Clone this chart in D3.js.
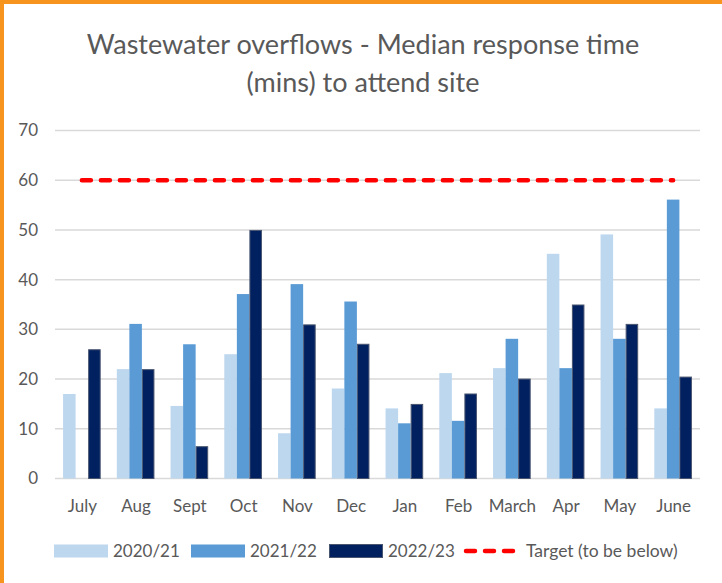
<!DOCTYPE html>
<html>
<head>
<meta charset="utf-8">
<script src="https://cdn.jsdelivr.net/npm/d3@7"></script>
<style>
  html, body { margin: 0; padding: 0; background: #fff; }
  #chart { width: 722px; height: 583px; }
</style>
</head>
<body>
<div id="chart"></div>
<script>
(function () {

    const months = ['July', 'Aug', 'Sept', 'Oct', 'Nov', 'Dec', 'Jan', 'Feb', 'March', 'Apr', 'May', 'June'];
    const seriesNames = ['2020/21', '2021/22', '2022/23'];
    const fy2021 = [17, 22, 14.6, 25, 9.1, 18.1, 14.1, 21.2, 22.2, 45.2, 49.1, 14.1];
    const fy2122 = [null, 31.1, 27, 37.1, 39.1, 35.6, 11.1, 11.6, 28.1, 22.2, 28.1, 56.1];
    const fy2223 = [26, 22, 6.5, 50, 31, 27.1, 15, 17.1, 20.1, 35, 31.1, 20.5];
    const target = 60;
    const targetLabel = 'Target (to be below)';
    const yTicks = [0, 10, 20, 30, 40, 50, 60, 70];

    const colors = ['#BDD7EE', '#5B9BD5', '#002060'];
    const textColor = '#595959';
    const font = 'Lato, "Open Sans", sans-serif';

    const W = 722, H = 583;
    const svg = d3.select('#chart')
        .append('svg')
        .attr('width', W)
        .attr('height', H)
        .style('font-family', font);

    // orange frame (top and left edges visible)
    svg.append('rect').attr('x', 0).attr('y', 0).attr('width', W).attr('height', 4).attr('fill', '#F7941D');
    svg.append('rect').attr('x', 0).attr('y', 0).attr('width', 4).attr('height', H).attr('fill', '#F7941D');

    // title
    const title = svg.append('text')
        .attr('text-anchor', 'middle')
        .attr('fill', textColor)
        .style('font-size', '27px');
    title.append('tspan').attr('x', 363).attr('y', 54).text('Wastewater overflows - Median response time');
    title.append('tspan').attr('x', 363).attr('y', 92).text('(mins) to attend site');

    // scales
    const x = d3.scaleBand()
        .domain(months)
        .range([55, 700])
        .paddingInner(0.3)
        .paddingOuter(0.15);

    const xs = d3.scaleBand()
        .domain(seriesNames)
        .range([0, x.bandwidth()]);

    const y = d3.scaleLinear()
        .domain([0, 70])
        .range([478.5, 130.5]);

    // gridlines
    svg.append('g')
        .selectAll('line')
        .data(yTicks)
        .enter()
        .append('line')
        .attr('x1', 55)
        .attr('x2', 700)
        .attr('y1', d => y(d))
        .attr('y2', d => y(d))
        .attr('stroke', '#D9D9D9')
        .attr('stroke-width', 1.5);

    // y axis labels
    const yAxis = svg.append('g')
        .attr('transform', 'translate(38, 0)')
        .call(d3.axisLeft(y).tickValues(yTicks).tickSize(0).tickPadding(0));
    yAxis.select('.domain').remove();
    yAxis.selectAll('text')
        .attr('fill', textColor)
        .style('font-size', '17px')
        .style('font-family', font);

    // x axis labels
    const xAxis = svg.append('g')
        .attr('transform', 'translate(0, 500)')
        .call(d3.axisBottom(d3.scalePoint().domain(months).range([55 + x.step() / 2, 700 - x.step() / 2])).tickSize(0).tickPadding(0));
    xAxis.select('.domain').remove();
    xAxis.selectAll('text')
        .attr('fill', textColor)
        .style('font-size', '17px')
        .style('font-family', font);

    // bars
    const rows = months.map((m, i) => ({
        month: m,
        values: [fy2021[i], fy2122[i], fy2223[i]]
    }));

    const groups = svg.append('g')
        .selectAll('g')
        .data(rows)
        .enter()
        .append('g')
        .attr('transform', d => `translate(${x(d.month)}, 0)`);

    groups.selectAll('rect')
        .data(d => d.values.map((v, k) => ({ k: k, v: v })).filter(e => e.v != null))
        .enter()
        .append('rect')
        .attr('x', d => xs(seriesNames[d.k]) + (d.k === 2 ? 0.5 : 0))
        .attr('y', d => y(d.v) + (d.k === 2 ? 0.5 : 0))
        .attr('width', d => xs.bandwidth() - (d.k === 2 ? 1 : 0))
        .attr('height', d => y(0) - y(d.v) - (d.k === 2 ? 0.5 : 0))
        .attr('fill', d => colors[d.k])
        .attr('stroke', d => d.k === 2 ? '#4A5670' : 'none')
        .attr('stroke-width', 1);

    // target line
    const tline = d3.line()
        .x(d => x(d) + x.bandwidth() / 2)
        .y(() => y(target));

    svg.append('path')
        .datum([months[0], months[months.length - 1]])
        .attr('d', tline)
        .attr('stroke', '#FF0000')
        .attr('stroke-width', 4.5)
        .attr('stroke-linecap', 'round')
        .attr('stroke-dasharray', '9,10')
        .attr('fill', 'none');

    // legend
    const legend = svg.append('g').attr('transform', 'translate(0, 551)');
    const legendItems = [
        { x: 54, label: seriesNames[0], k: 0 },
        { x: 191, label: seriesNames[1], k: 1 },
        { x: 329, label: seriesNames[2], k: 2 }
    ];
    legendItems.forEach(it => {
        legend.append('rect')
            .attr('x', it.x + (it.k === 2 ? 0.5 : 0))
            .attr('y', -6.5)
            .attr('width', 54 - (it.k === 2 ? 1 : 0))
            .attr('height', 13)
            .attr('fill', colors[it.k])
            .attr('stroke', it.k === 2 ? '#4A5670' : 'none');
        legend.append('text')
            .attr('x', it.x + 59)
            .attr('y', 0)
            .attr('dy', '0.35em')
            .attr('fill', textColor)
            .style('font-size', '17px')
            .text(it.label);
    });
    legend.append('line')
        .attr('x1', 466)
        .attr('x2', 514)
        .attr('y1', 0)
        .attr('y2', 0)
        .attr('stroke', '#FF0000')
        .attr('stroke-width', 4.5)
        .attr('stroke-linecap', 'round')
        .attr('stroke-dasharray', '9,10');
    legend.append('text')
        .attr('x', 526)
        .attr('y', 0)
        .attr('dy', '0.35em')
        .attr('fill', textColor)
        .style('font-size', '17.5px')
        .text(targetLabel);

})();
</script>
</body>
</html>
